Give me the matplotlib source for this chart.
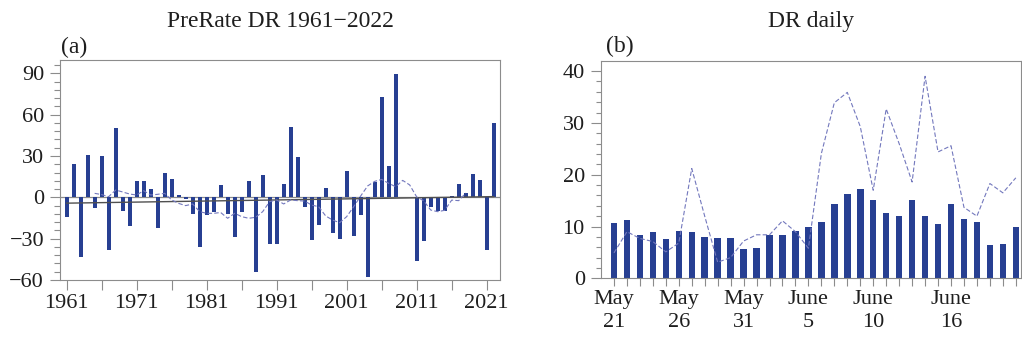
import numpy as np
import matplotlib
matplotlib.use("Agg")
import matplotlib.pyplot as plt
from matplotlib.ticker import MultipleLocator

plt.rcParams['font.family'] = ['Liberation Serif', 'DejaVu Serif']
plt.rcParams['axes.unicode_minus'] = True

# yearly precipitation-rate anomaly, 1961-2022
years = np.arange(1961, 2023)
prerate = [-14, 24, -43, 31, -8, 30, -38, 50, -10, -21,
           12, 12, 6, -22, 18, 13, 2, -1, -12, -36,
           -13, -11, 9, -12, -29, -11, 12, -54, 16, -34,
           -34, 10, 51, 29, -7, -31, -20, 6.5, -26, -30,
           19, -28, -13, -58, 11, 73, 23, 89.5, 0, 0,
           -46, -32, -7, -10, -10, 1, 10, 3, 17, 12.6,
           -38, 53.7]

# smoothed curve, 1965-2018
smooth_years = np.arange(1965, 2019)
prerate_smooth = [2.9, 2.0, 0.5, 5.3, 3.9, 2.4, 1.7, 4.8, 1.7, 2.2,
                  2.9, -1.9, -4.4, -6.0, -4.8, -10.4, -11.6, -11.6, -11.0, -15.2,
                  -11.6, -14.0, -15.2, -14.5, -10.4, -3.1, -1.9, -4.8, -1.9, -2.4,
                  -2.7, -5.6, -6.8, -13.5, -16.5, -18.4, -14.0, -6.8, 1.0, 8.3,
                  11.6, 13.0, 10.2, 7.7, 12.3, 9.0, 0.3, -2.5, -9.2, -10.4,
                  -9.4, -2.0, -2.4, 3.1]

# daily values, May 21 - June 21
days = np.arange(32)
day_ticklabels = {0: 'May\n21', 5: 'May\n26', 10: 'May\n31',
                  15: 'June\n5', 20: 'June\n10', 26: 'June\n16'}
daily_bar = [10.7, 11.3, 8.3, 9.0, 7.5, 9.1, 8.9, 8.0, 7.7, 7.7,
             5.7, 5.8, 8.4, 8.4, 9.1, 10.0, 10.9, 14.4, 16.3, 17.2,
             15.2, 12.7, 12.0, 15.2, 12.0, 10.5, 14.3, 11.4, 10.9, 6.4,
             6.7, 10.0]
daily_line = [4.9, 9.0, 7.7, 7.1, 5.1, 6.8, 21.2, 12.0, 3.1, 4.0,
              7.2, 8.4, 8.4, 11.1, 9.0, 5.8, 24.1, 33.9, 35.9, 29.3,
              17.0, 32.7, 26.0, 18.6, 39.0, 24.4, 25.6, 13.7, 12.0, 18.3,
              16.5, 19.4]

bar_color = '#273f92'
line_color = '#7378bd'
frame_color = '#8c8c8c'
text_color = '#1e1e1e'

W, H = 1022, 344
fig = plt.figure(figsize=(W / 100, H / 100), dpi=100)
ax1 = fig.add_axes([60 / W, (H - 280) / H, 440 / W, 220 / H])
ax2 = fig.add_axes([601 / W, (H - 278.3) / H, 420 / W, 217 / H])

for ax in (ax1, ax2):
    for sp in ax.spines.values():
        sp.set_color(frame_color)
        sp.set_linewidth(0.8)
    ax.tick_params(which='both', direction='out', color=frame_color,
                   width=0.8, labelsize=16, labelcolor=text_color)
    ax.tick_params(which='major', length=7.2)
    ax.tick_params(which='minor', length=4)

# (a) yearly bars with trend and smoothed curve
ax1.axhline(0, color=frame_color, lw=0.9, zorder=1)
ax1.bar(years, prerate, width=0.55, color=bar_color, zorder=2)
coef = np.polyfit(years, prerate, 1)
ax1.plot(years, np.polyval(coef, years), color='#505050', lw=1.0, zorder=3)
ax1.plot(smooth_years, prerate_smooth, color=line_color, lw=0.8,
         linestyle=(0, (4, 2)), zorder=4)
ax1.set_xlim(1960.05, 2022.9)
ax1.set_ylim(-60, 99.7)
ax1.set_yticks([-60, -30, 0, 30, 60, 90])
ax1.yaxis.set_minor_locator(MultipleLocator(6))
ax1.set_xticks(np.arange(1961, 2023, 10))
ax1.xaxis.set_minor_locator(MultipleLocator(5))
ax1.xaxis.set_minor_locator(matplotlib.ticker.FixedLocator(np.arange(1966, 2023, 10)))
ax1.tick_params(axis='x', which='minor', length=7.2)
ax1.tick_params(axis='x', pad=3)
ax1.tick_params(axis='y', pad=4.3)

# (b) daily bars with dashed curve
ax2.bar(days, daily_bar, width=0.5, color=bar_color, zorder=2)
ax2.plot(days, daily_line, color=line_color, lw=0.8,
         linestyle=(0, (4, 2)), zorder=3)
ax2.set_xlim(-1, 31.4)
ax2.set_ylim(0, 41.9)
ax2.set_yticks([0, 10, 20, 30, 40])
ax2.yaxis.set_minor_locator(MultipleLocator(2))
ax2.set_xticks(days)
ax2.set_xticklabels([day_ticklabels.get(d, '') for d in days])
ax2.tick_params(axis='x', which='major', length=6, pad=2.5)
ax2.tick_params(axis='y', which='minor', length=3.6)
ax2.tick_params(axis='y', pad=4.5)
for t in ax2.get_xticklabels():
    t.set_linespacing(1.25)

fig.text(280 / W, 1 - 27 / H, 'PreRate DR 1961\u22122022', ha='center',
         va='baseline', fontsize=17, color=text_color)
fig.text(811 / W, 1 - 27 / H, 'DR daily', ha='center', va='baseline',
         fontsize=17, color=text_color)
fig.text(61 / W, 1 - 53 / H, '(a)', ha='left', va='baseline',
         fontsize=17, color=text_color)
fig.text(606 / W, 1 - 52.5 / H, '(b)', ha='left', va='baseline',
         fontsize=17, color=text_color)

fig.savefig('out.png', dpi=100)
